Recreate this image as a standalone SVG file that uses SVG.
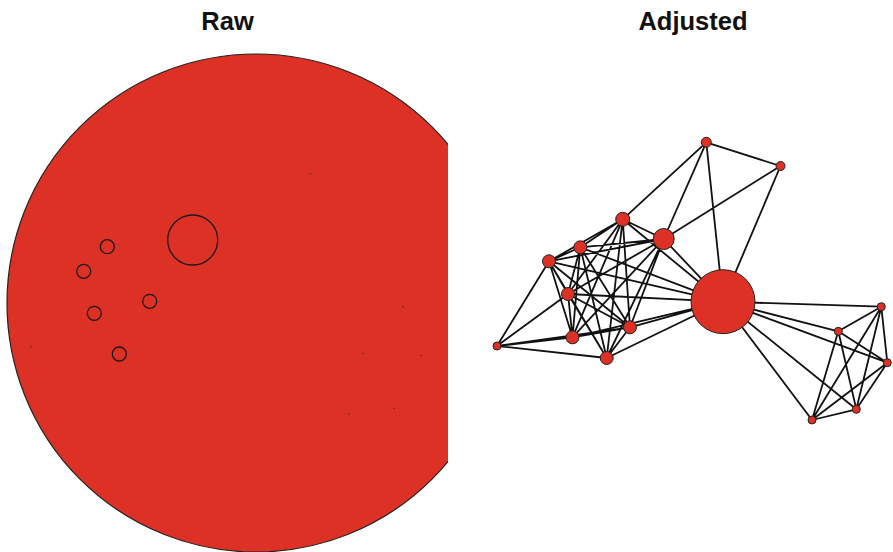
<svg xmlns="http://www.w3.org/2000/svg" width="893" height="552" viewBox="0 0 893 552">
<style>
.title{font-family:"Liberation Sans",Arial,sans-serif;font-weight:bold;font-size:25.5px;fill:#111;text-anchor:middle}
.edge{stroke:#111;stroke-width:1.8;fill:none}
.node{fill:#de3125;stroke:#222;stroke-width:1}
.ring{fill:none;stroke:#1a1a1a;stroke-width:1.3}
.dot{fill:#222}
</style>
<defs>
<clipPath id="clipL"><rect x="0" y="0" width="448" height="552"/></clipPath>
</defs>
<rect width="893" height="552" fill="#fff"/>
<text class="title" x="227.5" y="30">Raw</text>
<text class="title" x="693" y="30">Adjusted</text>

<g id="raw" clip-path="url(#clipL)">
<circle cx="256" cy="303" r="249" fill="#de3125" stroke="#222" stroke-width="1.2"/>
<circle class="ring" cx="192.7" cy="240" r="25"/>
<circle class="ring" cx="107.3" cy="246.7" r="7"/>
<circle class="ring" cx="83.7" cy="271.3" r="7"/>
<circle class="ring" cx="149.7" cy="301.3" r="7"/>
<circle class="ring" cx="94.3" cy="313.3" r="7"/>
<circle class="ring" cx="119.3" cy="354" r="7"/>
<circle class="dot" cx="310.3" cy="174" r="0.6"/>
<circle class="dot" cx="403" cy="306.7" r="0.6"/>
<circle class="dot" cx="31" cy="346.7" r="0.6"/>
<circle class="dot" cx="362.7" cy="353.3" r="0.6"/>
<circle class="dot" cx="421.3" cy="355.3" r="0.6"/>
<circle class="dot" cx="394" cy="408.3" r="0.6"/>
<circle class="dot" cx="348.7" cy="414" r="0.6"/>
</g>

<g id="connectors">
<path class="edge" d="
M706.3,142.3L780.5,166 M706.3,142.3L622.7,219.3 M706.3,142.3L663.7,239 M706.3,142.3L723,301.7
M780.5,166L663.7,239 M780.5,166L723,301.7
M622.7,219.3L663.7,239 M622.7,219.3L580.3,247.3 M622.7,219.3L549,261.3 M622.7,219.3L568,294 M622.7,219.3L630,327.3 M622.7,219.3L572.5,337.3 M622.7,219.3L606.7,358
M663.7,239L580.3,247.3 M663.7,239L549,261.3 M663.7,239L568,294 M663.7,239L630,327.3 M663.7,239L572.5,337.3 M663.7,239L606.7,358
M580.3,247.3L549,261.3 M580.3,247.3L568,294 M580.3,247.3L630,327.3 M580.3,247.3L572.5,337.3 M580.3,247.3L606.7,358
M549,261.3L568,294 M549,261.3L630,327.3 M549,261.3L572.5,337.3 M549,261.3L606.7,358
M568,294L630,327.3 M568,294L572.5,337.3 M568,294L606.7,358
M630,327.3L572.5,337.3 M630,327.3L606.7,358
M497,346L549,261.3 M497,346L568,294 M497,346L572.5,337.3 M497,346L630,327.3 M497,346L606.7,358
M723,301.7L622.7,219.3 M723,301.7L663.7,239 M723,301.7L580.3,247.3 M723,301.7L549,261.3 M723,301.7L568,294 M723,301.7L630,327.3 M723,301.7L572.5,337.3 M723,301.7L606.7,358
M723,301.7L881.3,306.7 M723,301.7L838.3,331.3 M723,301.7L887.3,362.7 M723,301.7L856.3,409.3 M723,301.7L812,420
M881.3,306.7L838.3,331.3 M881.3,306.7L887.3,362.7 M881.3,306.7L856.3,409.3 M881.3,306.7L812,420
M838.3,331.3L887.3,362.7 M838.3,331.3L856.3,409.3 M838.3,331.3L812,420
M887.3,362.7L856.3,409.3 M887.3,362.7L812,420
M856.3,409.3L812,420"/>
</g>

<g id="nA"><circle class="node" cx="706.3" cy="142.3" r="5"/></g>
<g id="nB"><circle class="node" cx="780.5" cy="166" r="4.5"/></g>
<g id="nC"><circle class="node" cx="622.7" cy="219.3" r="7"/></g>
<g id="nD"><circle class="node" cx="663.7" cy="239" r="10.5"/></g>
<g id="nE"><circle class="node" cx="580.3" cy="247.3" r="6.5"/></g>
<g id="nF"><circle class="node" cx="549" cy="261.3" r="6.5"/></g>
<g id="nG"><circle class="node" cx="568" cy="294" r="6.5"/></g>
<g id="nH"><circle class="node" cx="630" cy="327.3" r="6.5"/></g>
<g id="nI"><circle class="node" cx="572.5" cy="337.3" r="6.5"/></g>
<g id="nJ"><circle class="node" cx="497" cy="346" r="4"/></g>
<g id="nK"><circle class="node" cx="606.7" cy="358" r="6.5"/></g>
<g id="nL"><circle class="node" cx="723" cy="301.7" r="32"/></g>
<g id="nM"><circle class="node" cx="881.3" cy="306.7" r="4"/></g>
<g id="nN"><circle class="node" cx="838.3" cy="331.3" r="4"/></g>
<g id="nO"><circle class="node" cx="887.3" cy="362.7" r="4"/></g>
<g id="nP"><circle class="node" cx="856.3" cy="409.3" r="4"/></g>
<g id="nQ"><circle class="node" cx="812" cy="420" r="4"/></g>
</svg>
